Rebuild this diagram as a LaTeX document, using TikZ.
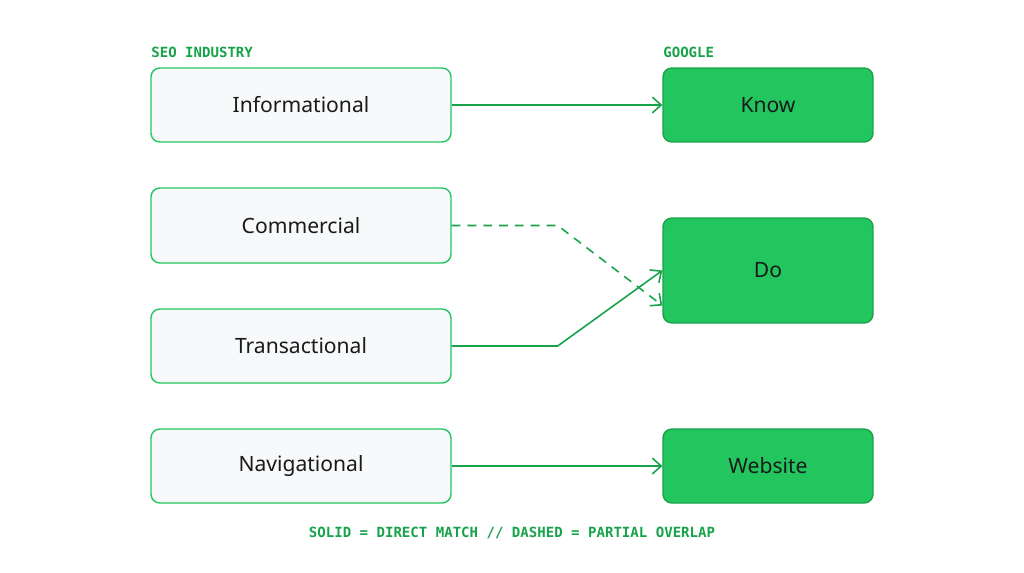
\documentclass[tikz,border=0pt]{standalone}
\usepackage{fontspec}
\setmainfont{Noto Sans}
\newfontfamily\monofont{DejaVu Sans Mono}
\usetikzlibrary{arrows.meta}
\definecolor{seogreen}{HTML}{22C55E}
\definecolor{seodark}{HTML}{16A34A}
\definecolor{seogray}{HTML}{F8F9FA}
\definecolor{seotext}{HTML}{1A1A1A}
\tikzstyle{every node}+=[inner sep=0pt]
\tikzstyle{source} = [rectangle, draw=seogreen, fill=seogray, line width=0.8pt, rounded corners=5pt, minimum width=6cm, font=\large, text=seotext]
\tikzstyle{target} = [rectangle, draw=seodark, fill=seogreen, line width=0.8pt, rounded corners=5pt, minimum width=4.2cm, font=\large, text=seotext]
\tikzstyle{caption} = [seodark, font=\monofont\footnotesize\bfseries]
\tikzstyle{line} = [draw=seodark, line width=0.9pt, -{Straight Barb[length=5pt,width=9pt]}]

\begin{document}
\begin{tikzpicture}[x=0.02cm, y=-0.02cm]
            \useasboundingbox (0,0) rectangle (1024,572);
            % Place nodes
            \node [caption, anchor=west] (seo) at (151,52) {SEO INDUSTRY};
            \node [caption, anchor=west] (ggl) at (663,52) {GOOGLE};
            \node [source, minimum height=1.48cm] (info) at (301,105) {Informational};
            \node [source, minimum height=1.5cm] (comm) at (301,225.5) {Commercial};
            \node [source, minimum height=1.48cm] (trans) at (301,346) {Transactional};
            \node [source, minimum height=1.48cm] (nav) at (301,466) {Navigational};
            \node [target, minimum height=1.48cm] (know) at (768,105) {Know};
            \node [target, minimum height=2.1cm] (do) at (768,270.5) {Do};
            \node [target, minimum height=1.48cm] (web) at (768,466) {Website};
            \node [caption] (legend) at (512,533) {SOLID = DIRECT MATCH // DASHED = PARTIAL OVERLAP};
            % Draw edges
            \path [line] (info) -- (know);
            \path [line, dashed, dash pattern=on 5pt off 4pt] (comm.east) -- ++(106,0) -- ([yshift=-0.7cm]do.west);
            \path [line] (trans.east) -- ++(106,0) -- (do.west);
            \path [line] (nav) -- (web);
          \end{tikzpicture}
\end{document}
